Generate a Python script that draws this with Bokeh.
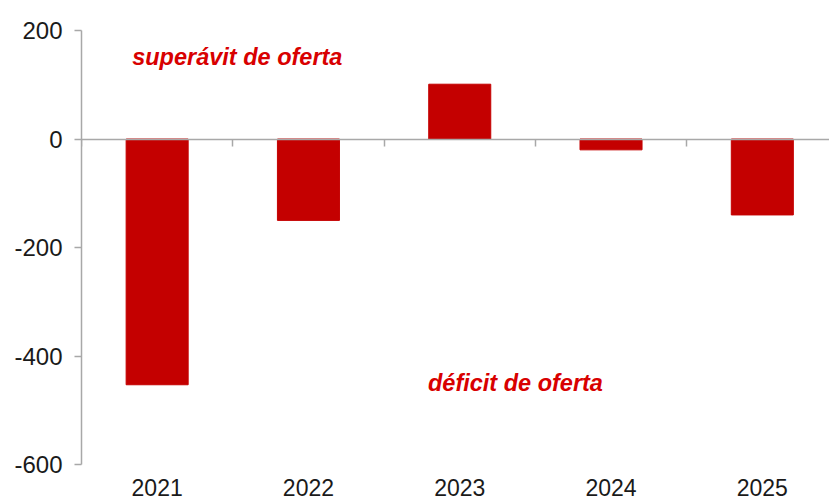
from bokeh.plotting import figure
from bokeh.models import Range1d, LinearAxis, FixedTicker, Label, ColumnDataSource
from bokeh.embed import file_html
from bokeh.resources import INLINE

# Data
years = ["2021", "2022", "2023", "2024", "2025"]
balance = [-453, -150, 101, -20, -140]
y_ticks = [-600, -400, -200, 0, 200]
surplus_label = "superávit de oferta"
deficit_label = "déficit de oferta"

xs = [i + 1 for i in range(len(years))]
bounds = [i + 0.5 for i in range(len(years) + 1)]

FONT = "'Liberation Sans', Arial, sans-serif"
RED_BAR = "#C40000"
RED_TXT = "#D80000"
GREY = "#A8A8A8"

W, H = 829, 504
p = figure(width=W, height=H, output_backend="svg", toolbar_location=None,
           x_range=Range1d(0.5, 5.444), y_range=Range1d(-600, 200),
           x_axis_location=None, y_axis_location="left",
           min_border_left=81, min_border_right=0, min_border_top=30,
           min_border_bottom=40)
p.outline_line_color = None
p.xgrid.visible = False
p.ygrid.visible = False
p.background_fill_color = "white"
p.border_fill_color = "white"

src = ColumnDataSource(dict(x=xs, top=balance))
p.vbar(x="x", top="top", bottom=0, width=0.41, source=src,
       fill_color=RED_BAR, line_color=RED_BAR)

# y axis
ya = p.yaxis[0]
ya.ticker = FixedTicker(ticks=y_ticks)
ya.major_label_overrides = {t: str(t) for t in y_ticks}
ya.axis_line_color = GREY
ya.axis_line_width = 1.5
ya.major_tick_line_color = GREY
ya.major_tick_line_width = 1.5
ya.major_tick_out = 7
ya.major_tick_in = 0
ya.minor_tick_line_color = None
ya.major_label_standoff = 12
ya.major_label_text_font = FONT
ya.major_label_text_font_size = "24px"
ya.major_label_text_color = "#1a1a1a"

# year labels axis at the bottom
xa = LinearAxis(ticker=FixedTicker(ticks=xs),
                major_label_overrides={x: y for x, y in zip(xs, years)},
                axis_line_color=None, major_tick_line_color=None,
                minor_tick_line_color=None)
xa.major_label_standoff = 8
xa.major_label_text_font = FONT
xa.major_label_text_font_size = "23px"
xa.major_label_text_color = "#1a1a1a"
p.add_layout(xa, "below")

# zero line with category boundary ticks
za = LinearAxis(ticker=FixedTicker(ticks=bounds), fixed_location=0,
                axis_line_color=GREY, axis_line_width=1.5,
                major_tick_line_color=GREY, major_tick_line_width=1.5,
                major_tick_in=7, major_tick_out=0,
                minor_tick_line_color=None,
                major_label_overrides={b: "" for b in bounds},
                major_label_text_font_size="1px", major_label_standoff=0)
p.add_layout(za, "above")

p.add_layout(Label(x=0.835, y=152, text=surplus_label, text_color=RED_TXT,
                   text_font=FONT, text_font_size="23.5px",
                   text_font_style="bold italic", text_baseline="alphabetic"))
p.add_layout(Label(x=2.79, y=-449, text=deficit_label, text_color=RED_TXT,
                   text_font=FONT, text_font_size="23.5px",
                   text_font_style="bold italic", text_baseline="alphabetic"))

open("out.html", "w").write(file_html(p, INLINE))
